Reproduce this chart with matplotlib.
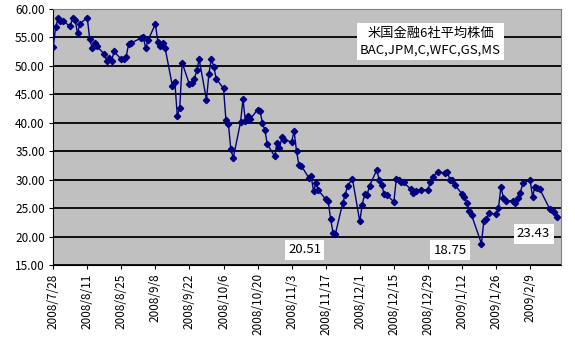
import matplotlib
matplotlib.use("Agg")
import matplotlib.pyplot as plt
import matplotlib.dates as mdates
from datetime import datetime, timedelta

plt.rcParams['font.family'] = ['Noto Sans CJK JP', 'DejaVu Sans']

dates = [
    "2008-07-28", "2008-07-29", "2008-07-30", "2008-07-31", "2008-08-01",
    "2008-08-04", "2008-08-05", "2008-08-06", "2008-08-07", "2008-08-08",
    "2008-08-11", "2008-08-12", "2008-08-13", "2008-08-14", "2008-08-15",
    "2008-08-18", "2008-08-19", "2008-08-20", "2008-08-21", "2008-08-22",
    "2008-08-25", "2008-08-26", "2008-08-27", "2008-08-28", "2008-08-29",
    "2008-09-02", "2008-09-03", "2008-09-04", "2008-09-05",
    "2008-09-08", "2008-09-09", "2008-09-10", "2008-09-11", "2008-09-12",
    "2008-09-15", "2008-09-16", "2008-09-17", "2008-09-18", "2008-09-19",
    "2008-09-22", "2008-09-23", "2008-09-24", "2008-09-25", "2008-09-26",
    "2008-09-29", "2008-09-30", "2008-10-01", "2008-10-02", "2008-10-03",
    "2008-10-06", "2008-10-07", "2008-10-08", "2008-10-09", "2008-10-10",
    "2008-10-13", "2008-10-14", "2008-10-15", "2008-10-16", "2008-10-17",
    "2008-10-20", "2008-10-21", "2008-10-22", "2008-10-23", "2008-10-24",
    "2008-10-27", "2008-10-28", "2008-10-29", "2008-10-30", "2008-10-31",
    "2008-11-03", "2008-11-04", "2008-11-05", "2008-11-06", "2008-11-07",
    "2008-11-10", "2008-11-11", "2008-11-12", "2008-11-13", "2008-11-14",
    "2008-11-17", "2008-11-18", "2008-11-19", "2008-11-20", "2008-11-21",
    "2008-11-24", "2008-11-25", "2008-11-26", "2008-11-28",
    "2008-12-01", "2008-12-02", "2008-12-03", "2008-12-04", "2008-12-05",
    "2008-12-08", "2008-12-09", "2008-12-10", "2008-12-11", "2008-12-12",
    "2008-12-15", "2008-12-16", "2008-12-17", "2008-12-18", "2008-12-19",
    "2008-12-22", "2008-12-23", "2008-12-24", "2008-12-26",
    "2008-12-29", "2008-12-30", "2008-12-31", "2009-01-02",
    "2009-01-05", "2009-01-06", "2009-01-07", "2009-01-08", "2009-01-09",
    "2009-01-12", "2009-01-13", "2009-01-14", "2009-01-15", "2009-01-16",
    "2009-01-20", "2009-01-21", "2009-01-22", "2009-01-23",
    "2009-01-26", "2009-01-27", "2009-01-28", "2009-01-29", "2009-01-30",
    "2009-02-02", "2009-02-03", "2009-02-04", "2009-02-05", "2009-02-06",
    "2009-02-09", "2009-02-10", "2009-02-11", "2009-02-12", "2009-02-13",
    "2009-02-17", "2009-02-18", "2009-02-19", "2009-02-20",
]

prices = [
    53.25, 56.8, 58.3, 57.85, 57.85,
    56.9, 58.4, 58.0, 55.7, 57.4,
    58.4, 54.7, 53.1, 53.9, 53.4,
    52.0, 50.85, 51.4, 50.8, 52.5,
    51.1, 51.2, 51.6, 53.8, 54.0,
    54.8, 55.0, 53.1, 54.5,
    57.3, 54.2, 53.4, 54.0, 53.1,
    46.4, 47.1, 41.2, 42.6, 50.5,
    46.7, 47.0, 47.6, 49.2, 51.1,
    44.0, 48.6, 51.2, 49.8, 47.7,
    46.0, 40.4, 39.8, 35.3, 33.8,
    40.1, 44.1, 40.2, 41.2, 40.6,
    42.3, 42.1, 39.9, 38.7, 36.2,
    34.1, 36.5, 35.6, 37.4, 37.0,
    36.6, 38.5, 35.0, 32.55, 32.4,
    30.35, 30.6, 28.0, 29.4, 28.1,
    26.55, 26.3, 23.1, 20.7, 20.51,
    25.9, 27.3, 28.95, 30.1,
    22.65, 25.6, 27.4, 27.3, 28.9,
    31.7, 29.9, 29.1, 27.4, 27.3,
    26.1, 30.05, 30.0, 29.6, 29.5,
    28.3, 27.6, 28.0, 28.2,
    28.2, 29.6, 30.5, 31.3,
    31.2, 31.4, 30.0, 29.9, 29.1,
    27.5, 27.0, 25.9, 24.4, 23.7,
    18.75, 22.8, 23.0, 24.1,
    23.9, 25.0, 28.7, 26.85, 26.2,
    26.3, 25.9, 26.8, 27.7, 29.4,
    29.9, 27.0, 28.7, 28.5, 28.3,
    24.9, 24.6, 24.3, 23.43,
]

title_lines = ["米国金融6社平均株価", "BAC,JPM,C,WFC,GS,MS"]
labelled_dates = ["2008-11-21", "2009-01-20", "2009-02-20"]

x = [datetime.strptime(d, "%Y-%m-%d") for d in dates]

fig = plt.figure(figsize=(5.75, 3.52), dpi=100)
ax = fig.add_axes([53.2 / 575, 1 - 265 / 352, (561 - 53.2) / 575, (265 - 8.7) / 352])
ax.set_facecolor("#C0C0C0")

ax.plot(x, prices, color="#000080", linewidth=1.0, marker="D", markersize=3.2,
        markerfacecolor="#000080", markeredgecolor="#000080", zorder=3)

ax.set_ylim(15, 60)
ax.set_yticks([15 + 5 * i for i in range(10)])
ax.yaxis.set_major_formatter(matplotlib.ticker.FuncFormatter(lambda v, p: f"{v:.2f}"))
ax.grid(axis="y", color="#000000", linewidth=1.3, zorder=1)
ax.set_axisbelow(True)

start = datetime(2008, 7, 28)
ax.set_xlim(start, start + timedelta(days=208.7))
ticks = [start + timedelta(days=14 * i) for i in range(15)]
ax.set_xticks(ticks)
ax.set_xticklabels([f"{t.year}/{t.month}/{t.day}" for t in ticks], rotation=90)

for s in ["top", "right"]:
    ax.spines[s].set_color("#808080")
for s in ["left", "bottom"]:
    ax.spines[s].set_color("#000000")
ax.tick_params(axis="both", labelsize=8.5, length=3, color="#000000", pad=3)

ax.text(0.743, 0.872, "\n".join(title_lines), transform=ax.transAxes,
        ha="center", va="center", fontsize=9.5, linespacing=1.35,
        bbox=dict(facecolor="white", edgecolor="none", pad=2.5), zorder=5)

label_pos = [(0.495, 0.059), (0.782, 0.058), (0.946, 0.121)]
for d, (px, py) in zip(labelled_dates, label_pos):
    v = prices[dates.index(d)]
    ax.text(px, py, f"{v:.2f}", transform=ax.transAxes, ha="center", va="center",
            fontsize=9.5, bbox=dict(facecolor="white", edgecolor="none", pad=2.5),
            zorder=5)

fig.savefig("out.png", dpi=100)
